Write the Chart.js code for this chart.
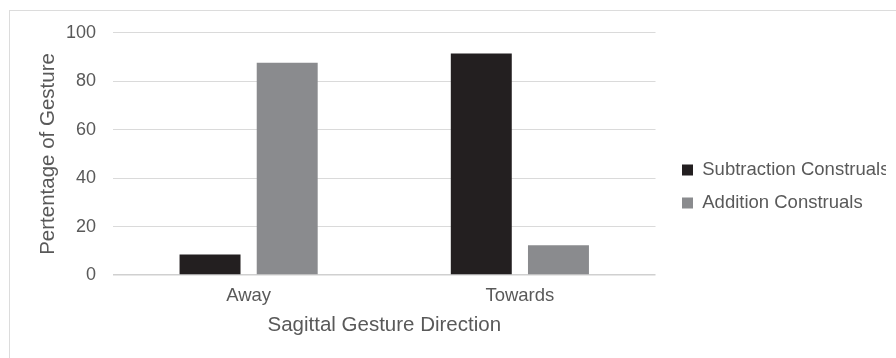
<!DOCTYPE html>
<html>
<head>
<meta charset="utf-8">
<script src="https://cdn.jsdelivr.net/npm/chart.js@4/dist/chart.umd.min.js"></script>
<style>
  html, body { margin: 0; padding: 0; background: #ffffff; }
  #wrap { position: relative; width: 896px; height: 358px; overflow: hidden; }
  #frame { position: absolute; left: 9px; top: 10px; width: 1000px; height: 500px;
           border-top: 1.5px solid #dcdcdc; border-left: 1.5px solid #dcdcdc; pointer-events: none; }
  canvas { position: absolute; left: 0; top: 0; }
</style>
</head>
<body>
<div id="wrap">
  <canvas id="chart" width="896" height="358"></canvas>
  <div id="frame"></div>
</div>
<script>
// Gesture direction categories and the two construal series (percent)
const categories = ['Away', 'Towards'];
const subtractionValues = [8.5, 91.5];
const additionValues = [87.7, 12.3];
const seriesNames = ['Subtraction Construals', 'Addition Construals'];
const yTicks = [0, 20, 40, 60, 80, 100];

const FONT = "'Liberation Sans', Arial, sans-serif";
const TEXT = '#595959';

// Nudges the right-hand legend a little away from the plot
const legendShift = {
  id: 'legendShift',
  afterLayout(chart) {
    if (chart.legend) {
      chart.legend.left += 12;
      chart.legend.right += 12;
    }
  }
};

new Chart(document.getElementById('chart'), {
  type: 'bar',
  data: {
    labels: categories,
    datasets: [
      { label: seriesNames[0], data: subtractionValues, backgroundColor: '#231f20', borderWidth: 0 },
      { label: seriesNames[1], data: additionValues, backgroundColor: '#8a8b8e', borderWidth: 0 }
    ]
  },
  options: {
    responsive: false,
    animation: false,
    categoryPercentage: 0.569,
    barPercentage: 0.79,
    layout: { padding: { top: 33, bottom: 18, left: 0, right: 22 } },
    plugins: {
      tooltip: { enabled: false },
      legend: {
        position: 'right',
        labels: {
          boxWidth: 11,
          boxHeight: 11,
          padding: 14.5,
          color: TEXT,
          font: { family: FONT, size: 18.5 }
        }
      }
    },
    scales: {
      x: {
        grid: { display: false, drawTicks: false },
        border: { display: false },
        ticks: { color: TEXT, padding: 10, font: { family: FONT, size: 18.5 } },
        title: {
          display: true,
          text: 'Sagittal Gesture Direction',
          color: TEXT,
          font: { family: FONT, size: 20.5 },
          padding: { top: 0, bottom: 2.7 }
        },
        afterFit(scale) { scale.height = 65; }
      },
      y: {
        min: 0,
        max: 100,
        afterBuildTicks(scale) { scale.ticks = yTicks.map(v => ({ value: v })); },
        grid: {
          drawTicks: false,
          color: ctx => ctx.tick && ctx.tick.value === 0 ? '#d0d0d0' : '#dadada',
          lineWidth: ctx => ctx.tick && ctx.tick.value === 0 ? 1.6 : 1.1
        },
        border: { display: false },
        ticks: { color: TEXT, padding: 17, font: { family: FONT, size: 18 } },
        title: {
          display: true,
          text: 'Pertentage of Gesture',
          color: TEXT,
          font: { family: FONT, size: 20.5 },
          padding: { top: 36, bottom: 0 }
        },
        afterFit(scale) { scale.width = 113; }
      }
    }
  },
  plugins: [legendShift]
});
</script>
</body>
</html>
